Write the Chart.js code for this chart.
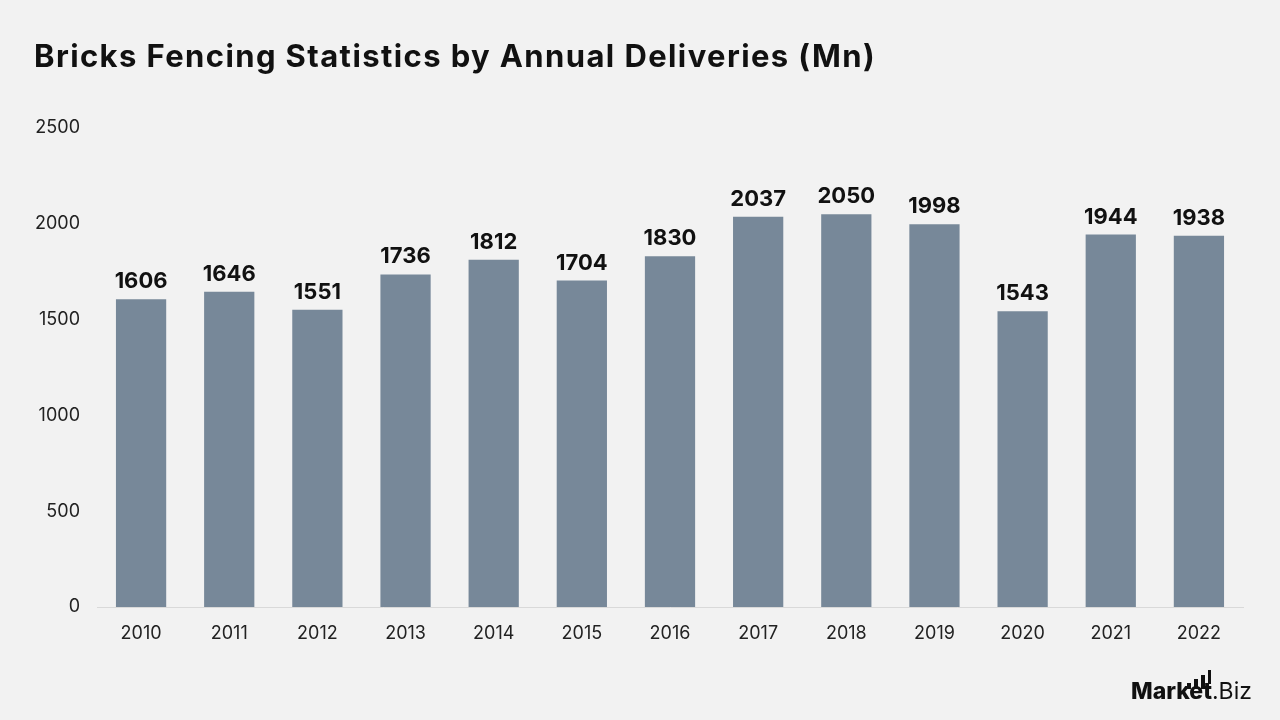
<!DOCTYPE html>
<html><head><meta charset="utf-8">
<script src="https://cdn.jsdelivr.net/npm/chart.js@4.4.1/dist/chart.umd.min.js"></script>
<style>
html,body{margin:0;padding:0;background:#f2f2f2;width:1280px;height:720px;overflow:hidden;font-family:Inter,"Open Sans",sans-serif;}
#wrap{position:absolute;left:0;top:0;width:1280px;height:720px;}
#title{position:absolute;left:34px;top:37px;font-size:31px;font-weight:700;color:#111;letter-spacing:1.4px;white-space:nowrap;}
#logo{position:absolute;left:1131px;top:678px;font-size:23px;color:#111;white-space:nowrap;line-height:26px;}
#logo b{font-weight:800;}
.lb{position:absolute;background:#111;width:4px;}
</style></head>
<body>
<div id="wrap"><canvas id="c" width="1280" height="720"></canvas></div>
<div id="title">Bricks Fencing Statistics by Annual Deliveries (Mn)</div>
<div id="logo"><b>Market</b>.Biz
<div class="lb" style="left:56px;top:5px;height:6px"></div>
<div class="lb" style="left:63px;top:1px;height:10px"></div>
<div class="lb" style="left:70px;top:-3px;height:14px"></div>
<div class="lb" style="left:77px;top:-8px;height:14px;width:3px"></div>
</div>
<script>
const categories = ["2010","2011","2012","2013","2014","2015","2016","2017","2018","2019","2020","2021","2022"];
const deliveries = [1606,1646,1551,1736,1812,1704,1830,2037,2050,1998,1543,1944,1938];
const yTicks = [0,500,1000,1500,2000,2500];

const labelPlugin = {
  id:'valueLabels',
  afterDatasetsDraw(chart){
    const ctx = chart.ctx;
    const meta = chart.getDatasetMeta(0);
    ctx.save();
    ctx.font = '700 22px Inter, "Open Sans", sans-serif';
    ctx.fillStyle = '#111';
    ctx.textAlign = 'center';
    ctx.textBaseline = 'alphabetic';
    meta.data.forEach((bar,i)=>{
      ctx.fillText(String(chart.data.datasets[0].data[i]), bar.x, bar.y - 11);
    });
    ctx.restore();
  }
};

new Chart(document.getElementById('c'), {
  type:'bar',
  data:{labels:categories, datasets:[{data:deliveries, backgroundColor:'#778899', barPercentage:0.57, categoryPercentage:1}]},
  options:{
    responsive:false, animation:false,
    layout:{padding:{left:20,right:37,top:128,bottom:0}},
    plugins:{legend:{display:false}, tooltip:{enabled:false}},
    scales:{
      x:{
        grid:{display:false, drawTicks:false},
        border:{display:true, color:'#d9d9d9', width:1},
        ticks:{color:'#222', font:{family:'Inter, "Open Sans", sans-serif', size:18}, padding:16, maxRotation:0},
        afterFit(s){ s.height = 113; }
      },
      y:{
        min:0, max:2500,
        grid:{display:false, drawTicks:false},
        border:{display:false},
        afterBuildTicks(s){ s.ticks = yTicks.map(v=>({value:v})); },
        ticks:{color:'#222', font:{family:'Inter, "Open Sans", sans-serif', size:18}, padding:17, callback:(v)=>String(v)},
        afterFit(s){ s.width = 77; }
      }
    }
  },
  plugins:[labelPlugin]
});
</script>
</body></html>
